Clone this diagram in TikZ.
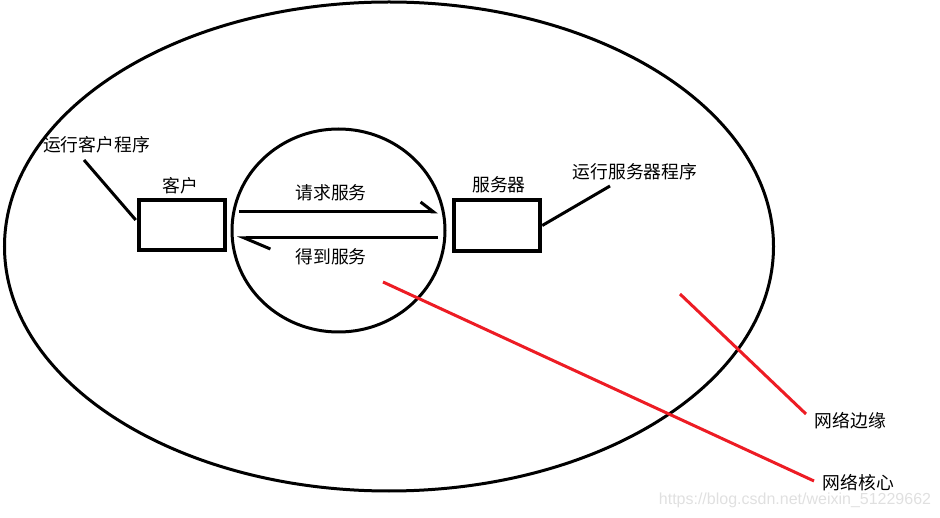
\documentclass[tikz,border=0pt]{standalone}
\usepackage{fontspec}
\newfontfamily\cjk{Noto Sans CJK SC}
\newfontfamily\wm{Liberation Sans}
\usetikzlibrary{arrows.meta,calc}
\tikzset{
  lbl/.style={font=\cjk\fontsize{17.8}{20}\selectfont, inner sep=0pt, anchor=center},
  hostbox/.style={draw, line width=4.5pt, minimum width=86pt, inner sep=0pt},
  thin/.style={line width=3pt},
  redline/.style={line width=3pt, draw={rgb,255:red,237;green,28;blue,36}},
  barb/.style={-{Straight Barb[left,length=#1pt,width=22pt,line width=3pt]}}
}
\begin{document}
\begin{tikzpicture}[x=1pt,y=-1pt]
\useasboundingbox (0,0) rectangle (940,518);
% outer and inner ellipses
\draw[thin] (389,246.5) ellipse [x radius=384.5pt, y radius=244.5pt];
\draw[thin] (338.5,230.5) ellipse [x radius=106.5pt, y radius=101.5pt];
% boxes
\node[hostbox, minimum height=50pt] (client) at (182,225) {};
\node[hostbox, minimum height=51pt] (server) at (497,225.5) {};
% labels
\node[lbl] (tclient) at (180,186) {客户};
\node[lbl] (tserver) at (499,185) {服务器};
\node[lbl] (treq) at (331,193) {请求服务};
\node[lbl] (tget) at (331,257) {得到服务};
\node[lbl] (trunc) at (96.5,145) {运行客户程序};
\node[lbl] (truns) at (635,172) {运行服务器程序};
\node[lbl] (tedge) at (850.5,421) {网络边缘};
\node[lbl] (tcore) at (858.5,483) {网络核心};
\node[font=\wm\fontsize{16}{18}\selectfont, text=black!12, inner sep=0pt] (wmark) at (795,500) {https://blog.csdn.net/weixin\_51229662};
% arrows
\coordinate (a1) at (239,212);
\coordinate (a2) at (438,212);
\coordinate (b1) at (438,238);
\coordinate (b2) at (237,238);
\draw[thin, -{Straight Barb[left,length=13pt,width=20pt,line width=3pt]}] (a1) -- (a2);
\draw[thin, -{Straight Barb[left,length=26pt,width=22pt,line width=3pt]}] (b1) -- (b2);
% label leaders
\coordinate (lc) at (84,160);
\coordinate (ls) at (610,186);
\draw[thin] (lc) -- ($(client.west)+(-1,-5)$);
\draw[thin] (server.east) -- (ls);
% red leaders
\coordinate (e1) at (680,294);
\coordinate (e2) at (806,414);
\coordinate (c1) at (383,282);
\coordinate (c2) at (814,481);
\draw[redline] (e1) -- (e2);
\draw[redline] (c1) -- (c2);
\end{tikzpicture}
\end{document}
